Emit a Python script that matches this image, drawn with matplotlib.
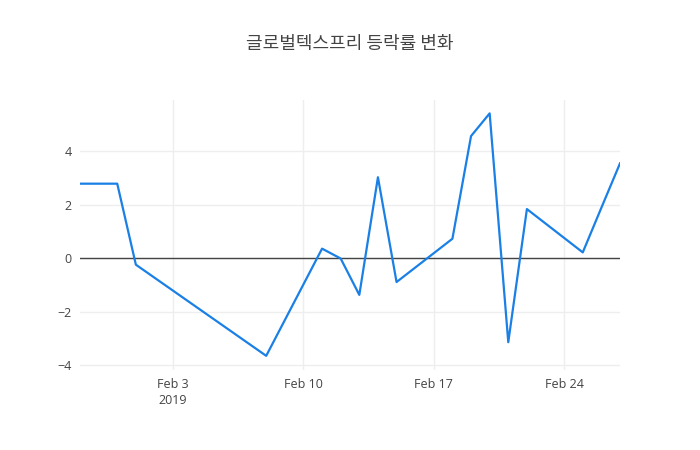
import matplotlib
matplotlib.use('Agg')
import matplotlib.pyplot as plt
import pandas as pd

plt.rcParams['font.family'] = ['Open Sans', 'Noto Sans CJK KR', 'DejaVu Sans']

dates = pd.to_datetime([
    '2019-01-29', '2019-01-31', '2019-02-01', '2019-02-08', '2019-02-11',
    '2019-02-12', '2019-02-13', '2019-02-14', '2019-02-15', '2019-02-18',
    '2019-02-19', '2019-02-20', '2019-02-21', '2019-02-22', '2019-02-25',
    '2019-02-26', '2019-02-27',
])
rates = [2.79, 2.79, -0.24, -3.65, 0.36, -0.01, -1.37, 3.03, -0.89, 0.73,
         4.57, 5.42, -3.14, 1.84, 0.22, 1.89, 3.55]
title = '글로벌텍스프리 등락률 변화'
y_ticks = [-4, -2, 0, 2, 4]
y_labels = ['−4', '−2', '0', '2', '4']
x_ticks = pd.to_datetime(['2019-02-03', '2019-02-10', '2019-02-17', '2019-02-24'])
x_labels = ['Feb 3\n2019', 'Feb 10', 'Feb 17', 'Feb 24']

fig = plt.figure(figsize=(7, 4.5), dpi=100)
ax = fig.add_axes([80 / 700, 80 / 450, 540 / 700, 270 / 450])

ax.plot(dates, rates, color='#1a80e6', linewidth=1.6, zorder=3)
ax.axhline(0, color='#444444', linewidth=1, zorder=2)

ax.set_xlim(dates[0], dates[-1])
ax.set_ylim(-4.18, 5.92)
ax.set_yticks(y_ticks)
ax.set_yticklabels(y_labels)
ax.set_xticks(x_ticks)
ax.set_xticklabels(x_labels)

ax.grid(True, color='#eeeeee', linewidth=1, zorder=1)
for s in ax.spines.values():
    s.set_visible(False)
ax.tick_params(length=0, labelsize=9, colors='#444444', pad=6)
for lbl in ax.get_xticklabels():
    lbl.set_linespacing(1.25)

fig.text(0.5, 1 - 44 / 450, title, ha='center', va='center', fontsize=13,
         color='#444444', family=['Noto Sans CJK KR', 'DejaVu Sans'])

fig.savefig('out.png', dpi=100)
